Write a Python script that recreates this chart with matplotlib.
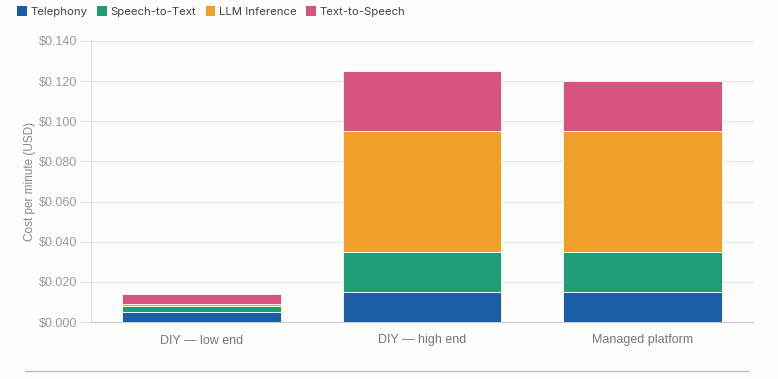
import numpy as np
import matplotlib.pyplot as plt
from matplotlib.patches import Patch
from matplotlib.lines import Line2D
from matplotlib.ticker import FuncFormatter

# data
categories = ["DIY \u2014 low end", "DIY \u2014 high end", "Managed platform"]
series_names = ["Telephony", "Speech-to-Text", "LLM Inference", "Text-to-Speech"]
telephony = [0.005, 0.015, 0.015]
speech_to_text = [0.003, 0.020, 0.020]
llm_inference = [0.001, 0.060, 0.060]
text_to_speech = [0.005, 0.030, 0.025]
colors = ["#1a5ea6", "#1f9e75", "#f09f29", "#d5557d"]

plt.rcParams["font.family"] = ["Liberation Sans", "DejaVu Sans"]

fig = plt.figure(figsize=(7.78, 3.79), dpi=100)
fig.patch.set_facecolor("#fdfdfc")
ax = fig.add_axes([91/778, 57/379, 662/778, 281/379])
ax.set_facecolor("#fdfdfc")

x = np.arange(len(categories))
bottom = np.zeros(len(categories))
for vals, name, c in zip([telephony, speech_to_text, llm_inference, text_to_speech], series_names, colors):
    ax.bar(x, vals, width=0.72, bottom=bottom, color=c, edgecolor="white", linewidth=0.6, label=name, zorder=3)
    bottom += np.array(vals)

ax.set_xlim(-0.5, 2.5)
ax.set_ylim(0, 0.14)
ax.set_yticks(np.arange(0, 0.1401, 0.02))
ax.yaxis.set_major_formatter(FuncFormatter(lambda v, p: "${:.3f}".format(v)))
ax.set_xticks(x)
ax.set_xticklabels(categories)
ax.grid(axis="y", color="#e6e6e6", linewidth=0.9, zorder=0)
for s in ["top", "right"]:
    ax.spines[s].set_visible(False)
ax.spines["left"].set_color("#e0e0e0")
ax.spines["bottom"].set_color("#cccccc")
ax.tick_params(axis="y", length=8, color="#e0e0e0", labelsize=9, labelcolor="#999999", pad=2)
ax.tick_params(axis="x", length=0, labelsize=9, labelcolor="#777777", pad=9)
ax.set_ylabel("Cost per minute (USD)", fontsize=8.5, color="#888888", labelpad=2)

handles = [Patch(facecolor=c, edgecolor="none", label=n) for c, n in zip(colors, series_names)]
fig.legend(handles=handles, loc="upper left", bbox_to_anchor=(0.009, 1.01), ncol=4, frameon=False,
           prop={"family": ["Inter", "DejaVu Sans"], "size": 8.2},
           handlelength=0.85, handleheight=0.85, handletextpad=0.35, columnspacing=0.8,
           labelcolor="#444444")

fig.add_artist(Line2D([25/778, 748/778], [8/379, 8/379], color="#bbbbbb", linewidth=1))

fig.savefig("out.png", dpi=100, facecolor=fig.get_facecolor())
